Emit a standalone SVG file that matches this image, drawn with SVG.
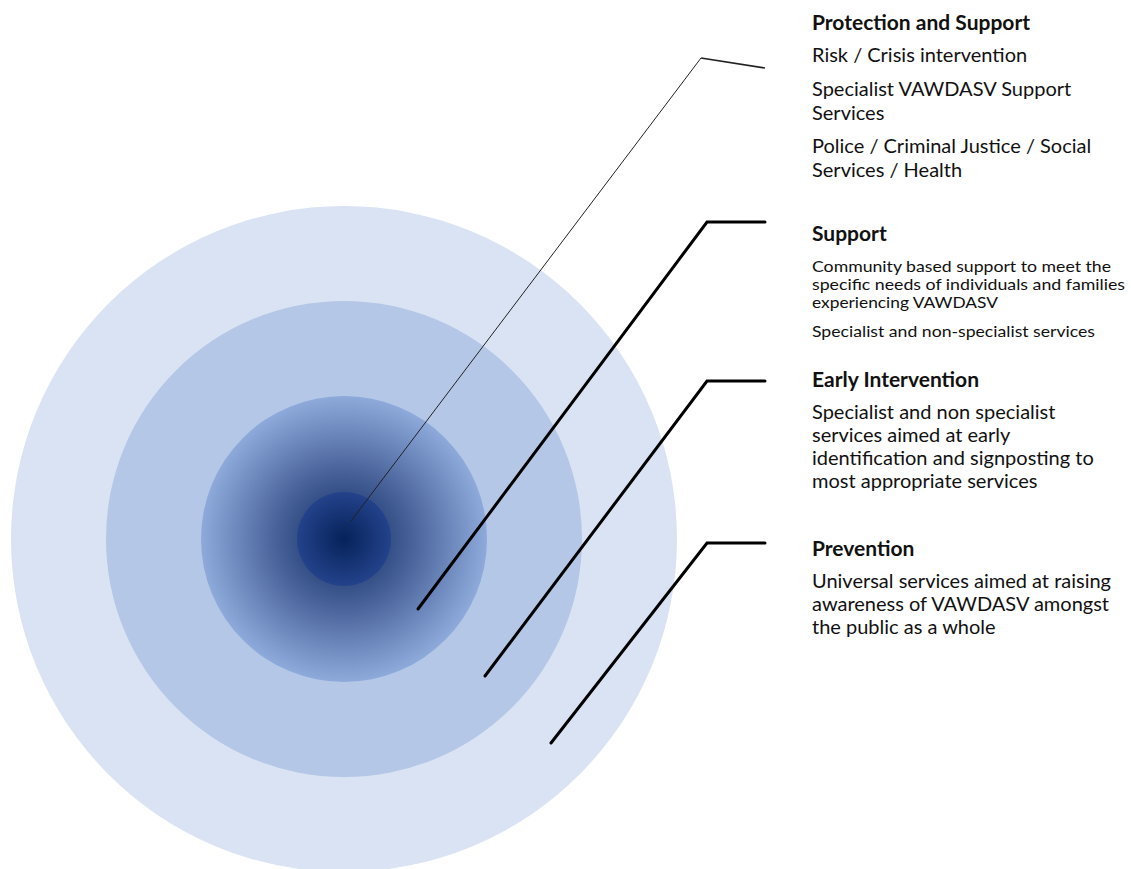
<svg xmlns="http://www.w3.org/2000/svg" width="1131" height="869" viewBox="0 0 1131 869">
<defs>
<radialGradient id="g3" cx="344" cy="539" r="143" gradientUnits="userSpaceOnUse">
<stop offset="0" stop-color="#0f2a60"/>
<stop offset="0.4" stop-color="#3e5890"/>
<stop offset="1" stop-color="#8eaadb"/>
</radialGradient>
<radialGradient id="g4" cx="344" cy="539" r="47" gradientUnits="userSpaceOnUse">
<stop offset="0" stop-color="#06225a"/>
<stop offset="1" stop-color="#23428a"/>
</radialGradient>
<style>
.t{font-family:Lato,"Liberation Sans",sans-serif;fill:#111}
.h{font-weight:bold;font-size:21px}
.b{font-size:20px}
.s{font-size:15px}
.ln{fill:none;stroke:#000;stroke-width:3;stroke-linecap:round;stroke-linejoin:miter}
.thin{fill:none;stroke:#222;stroke-width:1}
</style>
</defs>
<g id="rings">
<circle id="prevention-ring" cx="344" cy="539" r="333" fill="#dae3f3"/>
<circle id="early-ring" cx="344" cy="539" r="238" fill="#b4c7e7"/>
<circle id="support-ring" cx="344" cy="539" r="143" fill="url(#g3)"/>
<circle id="protection-ring" cx="344" cy="539" r="47" fill="url(#g4)"/>
</g>
<g id="connectors">
<polyline class="thin" points="351,521 701,58"/>
<polyline class="thin" style="stroke-width:1.6" points="701,58 765,68"/>
<polyline class="ln" points="418,609 707,222 765,222"/>
<polyline class="ln" points="485,676 707,381 765,381"/>
<polyline class="ln" points="551,743 707,543 765,543"/>
</g>
<g id="protection">
<text class="t h" x="812" y="30">Protection and Support</text>
<text class="t b" x="812" y="62">Risk / Crisis intervention</text>
<text class="t b" x="812" y="96">Specialist VAWDASV Support</text>
<text class="t b" x="812" y="120">Services</text>
<text class="t b" x="812" y="153">Police / Criminal Justice / Social</text>
<text class="t b" x="812" y="177">Services / Health</text>
</g>
<g id="support">
<text class="t h" x="812" y="241">Support</text>
<text class="t s" x="812" y="272" textLength="299" lengthAdjust="spacingAndGlyphs">Community based support to meet the</text>
<text class="t s" x="812" y="290" textLength="313" lengthAdjust="spacingAndGlyphs">specific needs of individuals and families</text>
<text class="t s" x="812" y="308" textLength="186" lengthAdjust="spacingAndGlyphs">experiencing VAWDASV</text>
<text class="t s" x="812" y="337" textLength="283" lengthAdjust="spacingAndGlyphs">Specialist and non-specialist services</text>
</g>
<g id="early">
<text class="t h" x="812" y="387">Early Intervention</text>
<text class="t b" x="812" y="419">Specialist and non specialist</text>
<text class="t b" x="812" y="442">services aimed at early</text>
<text class="t b" x="812" y="465">identification and signposting to</text>
<text class="t b" x="812" y="488">most appropriate services</text>
</g>
<g id="prevention">
<text class="t h" x="812" y="556">Prevention</text>
<text class="t b" x="812" y="588">Universal services aimed at raising</text>
<text class="t b" x="812" y="611">awareness of VAWDASV amongst</text>
<text class="t b" x="812" y="634">the public as a whole</text>
</g>
</svg>
